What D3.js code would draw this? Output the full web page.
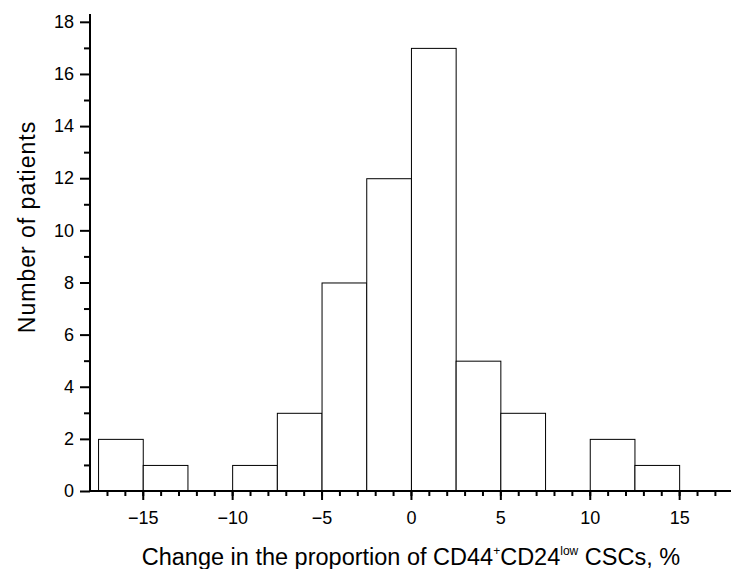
<!DOCTYPE html>
<html>
<head>
<meta charset="utf-8">
<script src="https://cdn.jsdelivr.net/npm/d3@7"></script>
<style>
  body { margin: 0; background: #fff; }
  svg { display: block; font-family: "Liberation Sans", Arial, sans-serif; }
</style>
</head>
<body>
<div id="chart"></div>
<script>
// Histogram bins (left edge, right edge) and patient counts
const binStarts = [-17.5, -15, -12.5, -10, -7.5, -5, -2.5, 0, 2.5, 5, 7.5, 10, 12.5]
const binWidth = 2.5
const counts = [2, 1, 0, 1, 3, 8, 12, 17, 5, 3, 0, 2, 1]
const xTicks = [-15, -10, -5, 0, 5, 10, 15]
const yTicks = [0, 2, 4, 6, 8, 10, 12, 14, 16, 18]

const width = 731
const height = 569
const margin = { top: 14, right: 0, bottom: 78, left: 90 }

const svg = d3.select("#chart")
  .append("svg")
  .attr("width", width)
  .attr("height", height)

const x = d3.scaleLinear()
  .domain([-17.95, 17.9])
  .range([margin.left, width - margin.right])

const y = d3.scaleLinear()
  .domain([0, 18.3])
  .range([height - margin.bottom, margin.top])

// Bars
svg.append("g")
  .selectAll("rect")
  .data(binStarts.map((s, i) => ({ x0: s, x1: s + binWidth, n: counts[i] })).filter(d => d.n > 0))
  .join("rect")
  .attr("x", d => x(d.x0) + 0.5)
  .attr("y", d => y(d.n) + 0.5)
  .attr("width", d => x(d.x1) - x(d.x0))
  .attr("height", d => y(0) - y(d.n))
  .attr("fill", "#fff")
  .attr("stroke", "#000")
  .attr("stroke-width", 1)

// X axis: minor ticks every 1, major every 5
svg.append("g")
  .attr("transform", `translate(0,${y(0)})`)
  .call(d3.axisBottom(x).tickValues(d3.range(-17, 18, 1)).tickSize(5).tickFormat(""))
  .call(g => g.select(".domain").remove())
svg.append("g")
  .attr("transform", `translate(0,${y(0)})`)
  .call(d3.axisBottom(x).tickValues(xTicks).tickSize(9).tickPadding(11)
    .tickFormat(d => d < 0 ? "\u2212" + Math.abs(d) : d))
  .call(g => g.select(".domain").attr("d", `M${x.range()[0]},0H${x.range()[1]}`))
  .call(g => g.selectAll("text").attr("font-size", 18).attr("font-family", "Liberation Sans, Arial, sans-serif").attr("fill", "#000"))

// Y axis: minor ticks every 1, major every 2
svg.append("g")
  .attr("transform", `translate(${margin.left},0)`)
  .call(d3.axisLeft(y).tickValues(d3.range(1, 19, 2)).tickSize(6).tickFormat(""))
  .call(g => g.select(".domain").remove())
svg.append("g")
  .attr("transform", `translate(${margin.left},0)`)
  .call(d3.axisLeft(y).tickValues(yTicks).tickSize(10).tickPadding(6))
  .call(g => g.select(".domain").attr("d", `M0,${y.range()[0]}V${y.range()[1]}`))
  .call(g => g.selectAll("text").attr("font-size", 18).attr("font-family", "Liberation Sans, Arial, sans-serif").attr("fill", "#000"))

svg.selectAll(".domain, .tick line").attr("stroke", "#000").attr("stroke-width", 2)

// Axis titles
svg.append("text")
  .attr("transform", `translate(35,227) rotate(-90)`)
  .attr("text-anchor", "middle")
  .attr("font-size", 23)
  .attr("letter-spacing", 1)
  .text("Number of patients")

const xt = svg.append("text")
  .attr("x", x(0))
  .attr("y", 565)
  .attr("text-anchor", "middle")
  .attr("font-size", 23.5)
xt.append("tspan").text("Change in the proportion of CD44")
xt.append("tspan").attr("font-size", 12).attr("dy", -10).text("+")
xt.append("tspan").attr("dy", 10).text("CD24")
xt.append("tspan").attr("font-size", 12).attr("dy", -10).text("low")
xt.append("tspan").attr("dy", 10).text(" CSCs, %")
</script>
</body>
</html>
